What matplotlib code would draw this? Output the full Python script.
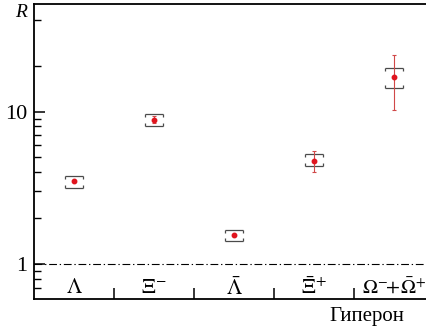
import matplotlib
matplotlib.use("Agg")
import matplotlib.pyplot as plt
from matplotlib.path import Path
from matplotlib.ticker import FixedLocator, NullFormatter, FixedFormatter
import numpy as np

plt.rcParams['font.family'] = ['Liberation Serif', 'DejaVu Serif']
plt.rcParams['mathtext.fontset'] = 'stix'

# Hyperon yield ratios
labels = [r'$\Lambda$', r'$\Xi^{-}$', r'$\bar{\Lambda}$', r'$\bar{\Xi}^{+}$',
          r'$\Omega^{-}\!\!+\!\bar{\Omega}^{+}$']
R = [3.52, 8.85, 1.55, 4.71, 16.8]
stat_lo = [0.06, 0.45, 0.03, 0.72, 6.5]
stat_hi = [0.06, 0.55, 0.03, 0.77, 6.6]
syst_lo = [0.36, 0.85, 0.13, 0.34, 2.5]
syst_hi = [0.29, 0.85, 0.12, 0.56, 2.4]

major_ticks = [1, 10]
major_labels = ['1', '10']
minor_ticks = [0.7, 0.8, 0.9, 2, 3, 4, 5, 6, 7, 8, 9, 20, 40]

W, H = 426, 334
fig = plt.figure(figsize=(W / 100, H / 100), dpi=100)
ax = fig.add_axes([34 / W, 35 / H, 400 / W, 295 / H])

x = np.arange(len(R))
ax.set_yscale('log')
ax.set_xlim(-0.5, len(R) - 0.5)
ax.set_ylim(0.592, 50.6)

# reference line at R = 1
ax.axhline(1, color='black', lw=0.8, linestyle=(0, (7, 2.5, 1.2, 2.5)), zorder=1)

# systematic uncertainty brackets
hw = 0.11
lo = np.array(R) - np.array(syst_lo)
hi = np.array(R) + np.array(syst_hi)
bcol = '#4a4a4a'
ax.hlines(hi, x - hw, x + hw, color=bcol, lw=0.9, zorder=2)
ax.hlines(lo, x - hw, x + hw, color=bcol, lw=0.9, zorder=2)
down = Path([(0, 0), (0, -1)])
up = Path([(0, 0), (0, 1)])
ends = np.concatenate([x - hw, x + hw])
ax.plot(ends, np.concatenate([hi, hi]), ls='none', marker=down, ms=4.4,
        mec=bcol, mew=0.9, zorder=2)
ax.plot(ends, np.concatenate([lo, lo]), ls='none', marker=up, ms=4.4,
        mec=bcol, mew=0.9, zorder=2)

# statistical errors and central values
ax.errorbar(x, R, yerr=[stat_lo, stat_hi], fmt='none', ecolor='#d04848',
            elinewidth=0.8, capsize=1.6, capthick=0.8, zorder=3)
ax.plot(x, R, ls='none', marker='o', ms=3.2, mfc='#e0141e', mec='#e0141e', zorder=4)

# axes styling
for side in ['left', 'bottom', 'top', 'right']:
    ax.spines[side].set_linewidth(1.3)
ax.yaxis.set_major_locator(FixedLocator(major_ticks))
ax.yaxis.set_major_formatter(FixedFormatter(major_labels))
ax.yaxis.set_minor_locator(FixedLocator(minor_ticks))
ax.yaxis.set_minor_formatter(NullFormatter())
ax.tick_params(axis='y', which='major', direction='in', length=8, width=1.1,
               labelsize=16, pad=5)
ax.tick_params(axis='y', which='minor', direction='in', length=5, width=1.0)
ax.set_xticks(np.arange(len(R) - 1) + 0.5)
ax.tick_params(axis='x', which='major', direction='in', length=8, width=1.1,
               labelbottom=False)
ax.tick_params(axis='x', which='minor', bottom=False)

sizes = [15.5, 15.5, 15.5, 15.5, 14.5]
for xi, lab, fs in zip(x, labels, sizes):
    ax.text(xi, 0.693, lab, ha='center', va='center', fontsize=fs)

fig.text(21 / W, 1 - 12.5 / H, 'R', fontsize=14, style='italic',
         ha='center', va='center')
fig.text(367 / W, 17 / H, 'Гиперон', fontsize=15, ha='center', va='center')

fig.savefig('out.png', dpi=100)
